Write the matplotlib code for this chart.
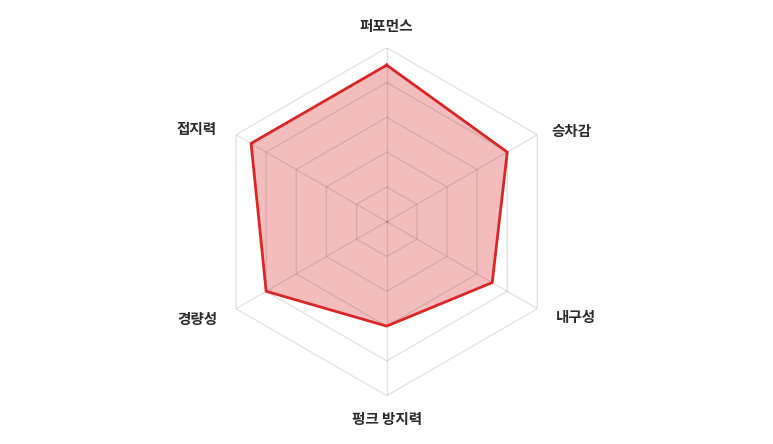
import numpy as np
import matplotlib
matplotlib.use("Agg")
import matplotlib.pyplot as plt

plt.rcParams['font.family'] = ['Noto Sans CJK KR', 'DejaVu Sans']

labels = ["퍼포먼스", "승차감", "내구성", "펑크 방지력", "경량성", "접지력"]
values = [90, 80, 70, 60, 80, 90]
ring_levels = [20, 40, 60, 80, 100]
# label offsets from the outer vertex, in pixels (dx, dy, ha)
label_offsets = [(0, 22, "center"), (14, 4, "left"), (18, -8, "left"),
                 (0, -23, "center"), (-19, -10, "right"), (-19, 6, "right")]

W, H = 773, 444
fig = plt.figure(figsize=(W / 100, H / 100), dpi=100)
cx, cy, R = 386.7, 444 - 221.7, 174
ax = fig.add_axes([(cx - R) / W, (cy - R) / H, 2 * R / W, 2 * R / H],
                  projection="polar")
ax.set_theta_zero_location("N")
ax.set_theta_direction(-1)
ax.set_ylim(0, 100)
ax.axis("off")

n = len(labels)
theta = np.arange(n) * 2 * np.pi / n
theta_c = np.append(theta, theta[0])

vals_c = values + values[:1]
ax.fill(theta_c, vals_c, color="#dc2626", alpha=0.3, lw=0, zorder=1)

# semi-transparent grid on top of the fill, like the reference
grid_col = (0, 0, 0, 0.11)
for r in ring_levels:
    ax.plot(theta_c, [r] * (n + 1), color=grid_col, lw=1.0, zorder=2)
for t in theta:
    ax.plot([t, t], [0, 100], color=grid_col, lw=1.0, zorder=2)

ax.plot(theta_c, vals_c, color="#dc2626", lw=2.0, zorder=3)

for t, lab, (dx, dy, ha) in zip(theta, labels, label_offsets):
    ax.annotate(lab, xy=(t, 100), xytext=(dx, dy), textcoords="offset pixels",
                ha=ha, va="center", fontsize=10.5, fontweight="bold",
                color="#2a2a2a", annotation_clip=False)

fig.savefig("out.png", dpi=100)
